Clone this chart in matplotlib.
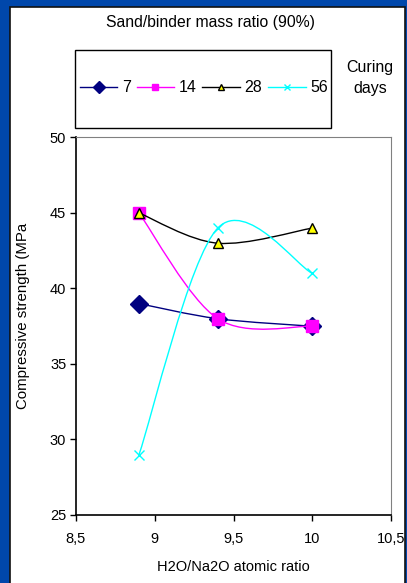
import numpy as np
import matplotlib
matplotlib.use('Agg')
import matplotlib.pyplot as plt
from matplotlib.path import Path
from matplotlib.patches import PathPatch, Rectangle
from matplotlib.lines import Line2D

# datos
ratio = [8.9, 9.4, 10.0]
dias = ['7', '14', '28', '56']
fc_7 = [39.0, 38.0, 37.5]
fc_14 = [45.0, 38.0, 37.5]
fc_28 = [45.0, 43.0, 44.0]
fc_56 = [29.0, 44.0, 41.0]
xticks = [8.5, 9.0, 9.5, 10.0, 10.5]
xtick_labels = ['8,5', '9', '9,5', '10', '10,5']
yticks = [25, 30, 35, 40, 45, 50]


def suave(x, y):
    # curva suavizada tipo Excel (Catmull-Rom con beziers cubicos)
    p = np.column_stack([x, y])
    n = len(p)
    verts = [p[0]]
    codes = [Path.MOVETO]
    for i in range(n - 1):
        p0 = p[max(i - 1, 0)]
        p1 = p[i]
        p2 = p[i + 1]
        p3 = p[min(i + 2, n - 1)]
        verts += [p1 + (p2 - p0) / 6, p2 - (p3 - p1) / 6, p2]
        codes += [Path.CURVE4] * 3
    return Path(verts, codes)


plt.rcParams['font.family'] = ['Liberation Sans', 'DejaVu Sans']
fs = 10.5

W, H = 407, 583
fig = plt.figure(figsize=(W / 100, H / 100), dpi=100)
fig.patch.set_facecolor('#0047AB')

# panel blanco
fig.patches.append(Rectangle((10 / W, -0.05), 395 / W, (H - 7) / H + 0.05,
                             transform=fig.transFigure, facecolor='white',
                             edgecolor='#111111', lw=1.2, zorder=-5))

ax = fig.add_axes([76 / W, 1 - 515 / H, 315 / W, 377.5 / H])
ax.set_facecolor('white')

series = [
    (fc_7, '#000080', 'D', '#000080', '#000080', 9.5),
    (fc_14, '#FF00FF', 's', '#FF00FF', '#FF00FF', 8),
    (fc_28, '#000000', '^', '#FFFF00', '#000000', 7.5),
    (fc_56, '#00FFFF', 'x', '#00FFFF', '#00FFFF', 7.5),
]

handles = []
z = 2
for (vals, col, mk, mfc, mec, ms), lab in zip(series, dias):
    ax.add_patch(PathPatch(suave(ratio, vals), facecolor='none', edgecolor=col,
                           lw=1.0, zorder=z))
    ax.plot(ratio, vals, linestyle='none', marker=mk, markersize=ms,
            markerfacecolor=mfc, markeredgecolor=mec, markeredgewidth=1.0,
            zorder=z + 1)
    z += 2
    handles.append(Line2D([], [], color=col, lw=1.0, marker=mk,
                          markersize=ms * 0.6, markerfacecolor=mfc,
                          markeredgecolor=mec, label=lab))

ax.set_xlim(8.5, 10.5)
ax.set_ylim(25, 50)
ax.set_xticks(xticks)
ax.set_xticklabels(xtick_labels)
ax.set_yticks(yticks)
ax.tick_params(direction='out', length=4, width=1, labelsize=fs, pad=3)
ax.tick_params(axis='x', pad=8)
ax.spines['top'].set_color('#808080')
ax.spines['right'].set_color('#808080')
for s in ['left', 'bottom']:
    ax.spines[s].set_color('black')
    ax.spines[s].set_linewidth(1.2)

ax.set_xlabel('H2O/Na2O atomic ratio', fontsize=fs, labelpad=10)
fig.text(23 / W, 1 - 316 / H, 'Compressive strength (MPa', rotation=90,
         ha='center', va='center', fontsize=fs + 0.3)

fig.text(210 / W, 1 - 22 / H, 'Sand/binder mass ratio (90%)', ha='center',
         va='center', fontsize=fs + 0.8)
fig.text(370 / W, 1 - 78 / H, 'Curing\ndays', ha='center', va='center',
         fontsize=fs + 1, linespacing=1.5)

# caja de la leyenda
fig.patches.append(Rectangle((75 / W, 1 - 128 / H), 256 / W, 78 / H,
                             transform=fig.transFigure, facecolor='white',
                             edgecolor='black', lw=1.0, zorder=-1))
fig.legend(handles=handles, loc='center', bbox_to_anchor=(204 / W, 1 - 88 / H),
           ncol=4, frameon=False, fontsize=fs + 1, handlelength=2.35,
           handletextpad=0.3, columnspacing=0.35, borderpad=0)

plt.savefig('out.png', dpi=100, facecolor=fig.get_facecolor())
